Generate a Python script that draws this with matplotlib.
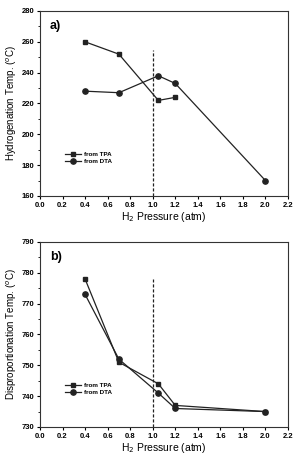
import matplotlib
matplotlib.use('Agg')
import matplotlib.pyplot as plt
from matplotlib.ticker import MultipleLocator

plt.rcParams['font.family'] = ['Liberation Sans', 'DejaVu Sans']

# Panel a) hydrogenation temperature
h_tpa_p = [0.4, 0.7, 1.05, 1.2]
h_tpa_t = [260, 252, 222, 224]
h_dta_p = [0.4, 0.7, 1.05, 1.2, 2.0]
h_dta_t = [228, 227, 238, 233, 170]

# Panel b) disproportionation temperature
d_tpa_p = [0.4, 0.7, 1.05, 1.2, 2.0]
d_tpa_t = [778, 751, 744, 737, 735]
d_dta_p = [0.4, 0.7, 1.05, 1.2, 2.0]
d_dta_t = [773, 752, 741, 736, 735]

fig = plt.figure(figsize=(2.95, 4.61), dpi=100)
ax1 = fig.add_axes([40/295, 1-196/461, 248/295, 185/461])
ax2 = fig.add_axes([40/295, 1-427/461, 248/295, 185/461])


def style(ax, ylim, ymajor, ylabel, tag, vtop):
    ax.set_xlim(0, 2.2)
    ax.set_ylim(*ylim)
    ax.xaxis.set_major_locator(MultipleLocator(0.2))
    ax.yaxis.set_major_locator(MultipleLocator(ymajor))
    ax.yaxis.set_minor_locator(MultipleLocator(ymajor/2))
    ax.tick_params(axis='both', which='major', labelsize=5.5, length=2.5, width=0.8,
                   direction='out', pad=1.5)
    ax.tick_params(axis='y', which='minor', length=1.5, width=0.6, direction='out')
    ax.tick_params(top=False, right=False)
    ax.xaxis.set_major_formatter(plt.FuncFormatter(lambda v, p: f'{v:.1f}'))
    for lbl in ax.get_xticklabels() + ax.get_yticklabels():
        lbl.set_fontweight('bold')
    for s in ax.spines.values():
        s.set_linewidth(0.8)
        s.set_color('#333333')
    ax.set_xlabel('H$_2$ Pressure (atm)', fontsize=7.5, labelpad=1)
    ax.set_ylabel(ylabel, fontsize=7, labelpad=2)
    ax.text(0.04, 0.95, tag, transform=ax.transAxes, fontsize=9, fontweight='bold', va='top')
    ax.plot([1.0, 1.0], [ylim[0], vtop], ls=(0, (2.5, 1.5)), color='#222222', lw=0.9)


style(ax1, (160, 280), 20, 'Hydrogenation Temp. ($^o$C)', 'a)', 255)
ax1.plot(h_tpa_p, h_tpa_t, marker='s', ms=3.5, color='#222222', lw=0.9, label='from TPA')
ax1.plot(h_dta_p, h_dta_t, marker='o', ms=3.8, color='#222222', lw=0.9, label='from DTA')

style(ax2, (730, 790), 10, 'Disproportionation Temp. ($^o$C)', 'b)', 778)
ax2.plot(d_tpa_p, d_tpa_t, marker='s', ms=3.5, color='#222222', lw=0.9, label='from TPA')
ax2.plot(d_dta_p, d_dta_t, marker='o', ms=3.8, color='#222222', lw=0.9, label='from DTA')

for ax in (ax1, ax2):
    leg = ax.legend(loc='lower left', bbox_to_anchor=(0.08, 0.14), frameon=False,
                    fontsize=4.5, handlelength=2.5, handletextpad=0.5, labelspacing=0.3)
    for t in leg.get_texts():
        t.set_fontweight('bold')

fig.savefig('out.png', dpi=100)
